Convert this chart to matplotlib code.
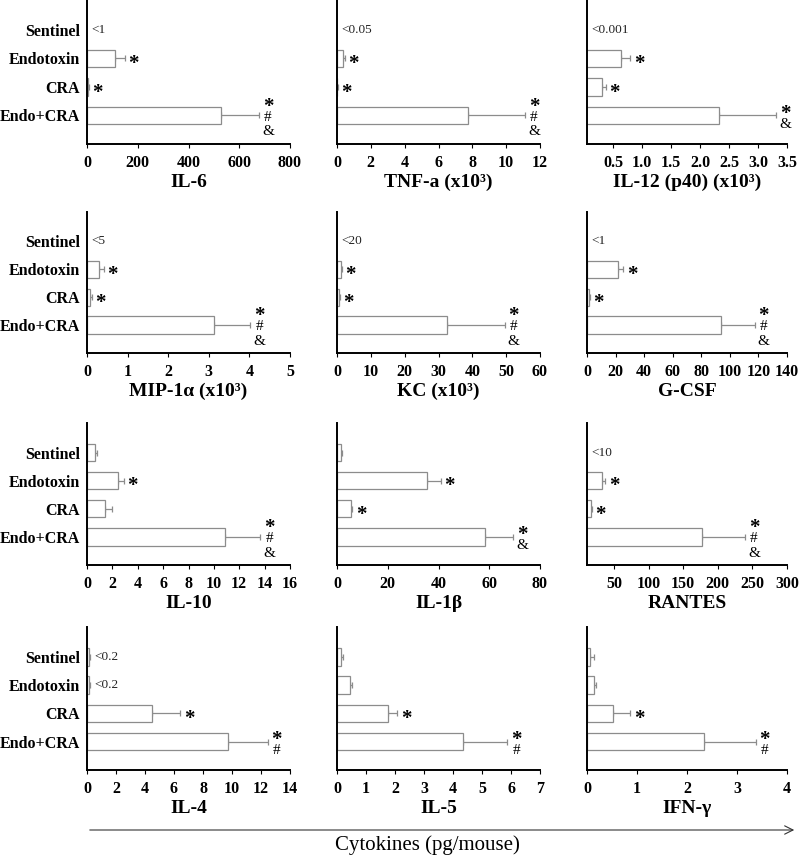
import numpy as np
import matplotlib
matplotlib.use("Agg")
import matplotlib.pyplot as plt
from matplotlib.patches import FancyArrowPatch

plt.rcParams['font.family'] = ['Liberation Serif', 'DejaVu Serif']

groups = ["Sentinel", "Endotoxin", "CRA", "Endo+CRA"]

# ---- data (pg/mouse) ----
il6_mean = [0, 111, 4, 528]
il6_err = [0, 37, 3, 150]
il6_sig = ["", "*", "*", "*#&"]
il6_note = ["<1", "", "", ""]

tnf_mean = [0, 0.33, 0.02, 7.72]
tnf_err = [0, 0.14, 0.01, 3.4]
tnf_sig = ["", "*", "*", "*#&"]
tnf_note = ["<0.05", "", "", ""]

il12_mean = [0, 0.64, 0.30, 2.33]
il12_err = [0, 0.15, 0.07, 0.98]
il12_sig = ["", "*", "*", "*&"]
il12_note = ["<0.001", "", "", ""]

mip_mean = [0, 0.30, 0.08, 3.13]
mip_err = [0, 0.11, 0.04, 0.89]
mip_sig = ["", "*", "*", "*#&"]
mip_note = ["<5", "", "", ""]

kc_mean = [0, 1.1, 0.6, 32.6]
kc_err = [0, 0.3, 0.2, 17.0]
kc_sig = ["", "*", "*", "*#&"]
kc_note = ["<20", "", "", ""]

gcsf_mean = [0, 21.9, 1.4, 93.7]
gcsf_err = [0, 3.4, 0.6, 23.7]
gcsf_sig = ["", "*", "*", "*#&"]
gcsf_note = ["<1", "", "", ""]

il10_mean = [0.61, 2.46, 1.43, 10.89]
il10_err = [0.18, 0.45, 0.53, 2.78]
il10_sig = ["", "*", "", "*#&"]
il10_note = ["", "", "", ""]

il1b_mean = [1.7, 35.5, 5.7, 58.3]
il1b_err = [0.3, 5.3, 0.3, 11.1]
il1b_sig = ["", "*", "*", "*&"]
il1b_note = ["", "", "", ""]

rantes_mean = [0, 32.4, 16.2, 177.6]
rantes_err = [0, 5.2, 1.4, 61.9]
rantes_sig = ["", "*", "*", "*#&"]
rantes_note = ["<10", "", "", ""]

il4_mean = [0.14, 0.14, 4.47, 9.73]
il4_err = [0.06, 0.06, 1.97, 2.74]
il4_sig = ["", "", "*", "*#"]
il4_note = ["<0.2", "<0.2", "", ""]

il5_mean = [0.15, 0.45, 1.76, 4.33]
il5_err = [0.04, 0.05, 0.32, 1.54]
il5_sig = ["", "", "*", "*#"]
il5_note = ["", "", "", ""]

ifng_mean = [0.06, 0.14, 0.51, 2.33]
ifng_err = [0.07, 0.03, 0.35, 1.04]
ifng_sig = ["", "", "*", "*#"]
ifng_note = ["", "", "", ""]

labels = ["IL-6", "TNF-a (x10\u00b3)", "IL-12 (p40) (x10\u00b3)",
          "MIP-1\u03b1 (x10\u00b3)", "KC (x10\u00b3)", "G-CSF",
          "IL-10", "IL-1\u03b2", "RANTES",
          "IL-4", "IL-5", "IFN-\u03b3"]
xlims = [(0, 800), (0, 12), (0.045, 3.5),
         (0, 5), (0, 60), (0, 140),
         (0, 16), (0, 80), (11, 300),
         (0, 14), (0, 7), (0, 4)]
xticks = [[0, 200, 400, 600, 800], [0, 2, 4, 6, 8, 10, 12],
          [0.5, 1.0, 1.5, 2.0, 2.5, 3.0, 3.5],
          [0, 1, 2, 3, 4, 5], [0, 10, 20, 30, 40, 50, 60],
          [0, 20, 40, 60, 80, 100, 120, 140],
          [0, 2, 4, 6, 8, 10, 12, 14, 16], [0, 20, 40, 60, 80],
          [50, 100, 150, 200, 250, 300],
          [0, 2, 4, 6, 8, 10, 12, 14], [0, 1, 2, 3, 4, 5, 6, 7],
          [0, 1, 2, 3, 4]]
xticklabels = [None, None, ["0.5", "1.0", "1.5", "2.0", "2.5", "3.0", "3.5"],
               None, None, None, None, None, None, None, None, None]

means = [il6_mean, tnf_mean, il12_mean, mip_mean, kc_mean, gcsf_mean,
         il10_mean, il1b_mean, rantes_mean, il4_mean, il5_mean, ifng_mean]
errs = [il6_err, tnf_err, il12_err, mip_err, kc_err, gcsf_err,
        il10_err, il1b_err, rantes_err, il4_err, il5_err, ifng_err]
sigs = [il6_sig, tnf_sig, il12_sig, mip_sig, kc_sig, gcsf_sig,
        il10_sig, il1b_sig, rantes_sig, il4_sig, il5_sig, ifng_sig]
notes = [il6_note, tnf_note, il12_note, mip_note, kc_note, gcsf_note,
         il10_note, il1b_note, rantes_note, il4_note, il5_note, ifng_note]

W, H = 800, 856
fig = plt.figure(figsize=(W / 100, H / 100), dpi=100)
col_left = [87, 337, 587]
col_w = [203, 203, 200]
row_top = [0, 212, 423, 627]
row_bot = [144, 353, 565, 770]

bar_edge = '#8c8c8c'
ypos = np.arange(len(groups))

for k in range(12):
    r, c = divmod(k, 3)
    ax = fig.add_axes([col_left[c] / W, 1 - row_bot[r] / H,
                       col_w[c] / W, (row_bot[r] - row_top[r]) / H])
    m = np.array(means[k], dtype=float)
    e = np.array(errs[k], dtype=float)
    show = m > 0
    ax.barh(ypos[show], m[show], height=0.62, color='white',
            edgecolor=bar_edge, linewidth=0.9, zorder=2)
    ax.errorbar(m[show], ypos[show], xerr=[np.zeros(show.sum()), e[show]],
                fmt='none', ecolor=bar_edge, elinewidth=0.9, capsize=2,
                capthick=0.9, zorder=1)
    x0 = xlims[k][0]
    for i in range(len(groups)):
        xend = max(m[i] + e[i], x0)
        if notes[k][i]:
            ax.annotate(notes[k][i], xy=(xend, ypos[i]), xytext=(3.5, 0),
                        textcoords='offset points', ha='left', va='center',
                        fontsize=9.5, color='#222222')
        syms = sigs[k][i]
        n = len(syms)
        for j, s in enumerate(syms):
            dy = -((j - (n - 1) / 2) * 10.5)
            if s == '*':
                ax.annotate(s, xy=(xend, ypos[i]), xytext=(6.4, dy - 4.2),
                            textcoords='offset points', ha='center',
                            va='center', fontsize=15, fontweight='bold')
            else:
                ax.annotate(s, xy=(xend, ypos[i]), xytext=(6.4, dy - 1.2),
                            textcoords='offset points', ha='center',
                            va='center', fontsize=11)
    ax.set_xlim(*xlims[k])
    ax.set_ylim(4.0, -1.05)
    ax.set_xticks(xticks[k])
    if xticklabels[k] is not None:
        ax.set_xticklabels(xticklabels[k])
    for t in ax.get_xticklabels():
        t.set_fontweight('bold')
        t.set_fontsize(11.5)
    ax.tick_params(axis='x', direction='out', length=3, width=0.8, pad=5)
    ax.set_yticks(ypos)
    if c == 0:
        ax.set_yticklabels(groups, fontweight='bold', fontsize=11.5)
    else:
        ax.set_yticklabels([])
    ax.tick_params(axis='y', length=0, pad=5)
    ax.set_xlabel(labels[k], fontweight='bold', fontsize=14, labelpad=2)
    ax.spines['top'].set_visible(False)
    ax.spines['right'].set_visible(False)
    ax.spines['left'].set_linewidth(1.4)
    ax.spines['bottom'].set_linewidth(1.4)
    ax.patch.set_visible(False)

fig.patches.append(FancyArrowPatch(
    (87 / W, 1 - 830 / H), (797 / W, 1 - 830 / H), transform=fig.transFigure,
    arrowstyle='->,head_length=6,head_width=3', linewidth=0.8,
    color='#333333', mutation_scale=1))
fig.text(427 / W, 1 - 845 / H, "Cytokines (pg/mouse)", ha='center',
         va='center', fontsize=15)

fig.savefig("out.png", dpi=100)
